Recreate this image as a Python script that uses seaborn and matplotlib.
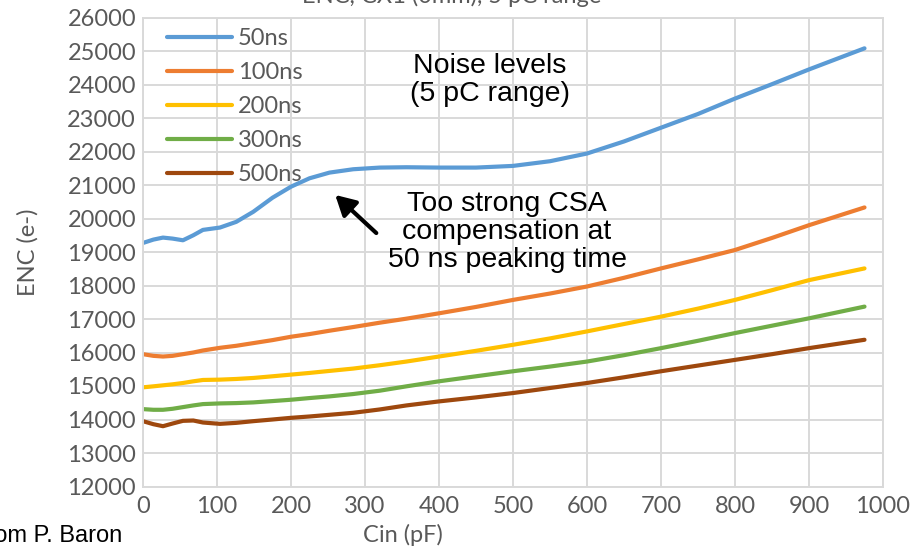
import numpy as np
import pandas as pd
import matplotlib
matplotlib.use("Agg")
import matplotlib.pyplot as plt
import seaborn as sns
from matplotlib.ticker import MultipleLocator

# ---- data ----
cin = [0, 14, 27, 40, 54, 68, 81, 104, 126, 149, 175, 200, 225, 252, 284, 320,
       356, 400, 450, 500, 550, 600, 650, 700, 750, 800, 850, 900, 975]
enc_50 = [19270, 19370, 19430, 19400, 19350, 19500, 19660, 19730, 19900, 20200,
          20620, 20950, 21200, 21370, 21470, 21520, 21530, 21520, 21520, 21570,
          21710, 21940, 22300, 22710, 23120, 23580, 24010, 24450, 25080]
enc_100 = [15950, 15900, 15880, 15900, 15950, 16000, 16060, 16140, 16200, 16280,
           16370, 16470, 16550, 16650, 16760, 16890, 17010, 17170, 17360, 17570,
           17760, 17970, 18230, 18510, 18780, 19060, 19420, 19800, 20330]
enc_200 = [14960, 14990, 15020, 15050, 15090, 15140, 15180, 15190, 15210, 15240,
           15290, 15340, 15390, 15450, 15520, 15620, 15730, 15880, 16050, 16230,
           16420, 16630, 16850, 17070, 17310, 17570, 17860, 18160, 18510]
enc_300 = [14310, 14290, 14290, 14320, 14370, 14420, 14460, 14480, 14490, 14510,
           14550, 14590, 14640, 14690, 14760, 14860, 14990, 15140, 15290, 15440,
           15580, 15730, 15920, 16130, 16350, 16580, 16800, 17020, 17370]
enc_500 = [13950, 13860, 13800, 13880, 13960, 13970, 13910, 13870, 13900, 13950,
           14000, 14050, 14090, 14140, 14200, 14300, 14420, 14540, 14660, 14790,
           14940, 15090, 15260, 15440, 15610, 15780, 15950, 16130, 16380]
series_names = ["50ns", "100ns", "200ns", "300ns", "500ns"]
series_colors = ["#5B9BD5", "#ED7D31", "#FFC000", "#70AD47", "#9E480E"]

frames = []
for name, vals in zip(series_names, [enc_50, enc_100, enc_200, enc_300, enc_500]):
    frames.append(pd.DataFrame({"Cin": cin, "ENC": vals, "Peaking": name}))
df = pd.concat(frames, ignore_index=True)

sns.set_theme(style="white")
plt.rcParams["font.family"] = ["Lato", "DejaVu Sans"]

GRAY = "#595959"
GRID = "#d9d9d9"

fig = plt.figure(figsize=(9.12, 5.5), dpi=100)
ax = fig.add_axes([143 / 912, 1 - 486.5 / 550, 740 / 912, 469 / 550])

sns.lineplot(data=df, x="Cin", y="ENC", hue="Peaking", hue_order=series_names,
             palette=series_colors, linewidth=3, ax=ax, sort=False)
for ln in ax.get_lines():
    ln.set_solid_joinstyle("round")
    ln.set_solid_capstyle("round")

ax.set_xlim(0, 1000)
ax.set_ylim(12000, 26000)
ax.xaxis.set_major_locator(MultipleLocator(100))
ax.xaxis.set_minor_locator(MultipleLocator(20))
ax.yaxis.set_major_locator(MultipleLocator(1000))
ax.grid(True, which="major", color=GRID, linewidth=1.4)
ax.set_axisbelow(True)
for s in ax.spines.values():
    s.set_color(GRID)
    s.set_linewidth(1.4)
ax.tick_params(axis="x", which="major", length=0, pad=7, labelsize=17, labelcolor=GRAY)
ax.tick_params(axis="x", which="minor", length=5, direction="in", color="#bfbfbf", width=1)
ax.tick_params(axis="y", which="major", length=0, pad=5, labelsize=17, labelcolor=GRAY)

ax.set_xlabel("Cin (pF)", fontsize=17, color=GRAY)
ax.xaxis.set_label_coords((403 - 143) / 740, -(535 - 486.5) / 469)
ax.xaxis.label.set_va("center")
ax.set_ylabel("ENC (e-)", fontsize=17, color=GRAY)
ax.yaxis.set_label_coords(-(143 - 28) / 740, 0.5)
ax.yaxis.label.set_va("center")

leg = ax.legend(loc="upper left", frameon=False, fontsize=17, handlelength=2.75,
                handletextpad=0.25, labelspacing=0.55, borderaxespad=0.0,
                bbox_to_anchor=(0.02, 0.997))
for t in leg.get_texts():
    t.set_color(GRAY)

ann_font = ["Liberation Sans", "DejaVu Sans"]
ax.text(469, 24130, "Noise levels\n(5 pC range)", ha="center", va="center",
        fontsize=20.5, family=ann_font, color="black", linespacing=1.1)
ax.text(492, 19600, "Too strong CSA\ncompensation at\n50 ns peaking time",
        ha="center", va="center", fontsize=20.5, family=ann_font, color="black",
        linespacing=1.1)
ax.annotate("", xy=(257, 20760), xytext=(318, 19510),
            arrowprops=dict(arrowstyle="-|>,head_length=1.0,head_width=0.55",
                            color="black", lw=3))

fig.text(452 / 912, 1 - 3 / 550, "ENC, CX1 (0mm), 5 pC range", ha="center",
         va="baseline", fontsize=17, color=GRAY)
fig.text(122 / 912, 1 - 542 / 550, "From P. Baron", ha="right", va="baseline",
         fontsize=17, family=["Liberation Sans", "DejaVu Sans"], color="black")

fig.savefig("out.png", dpi=100)
